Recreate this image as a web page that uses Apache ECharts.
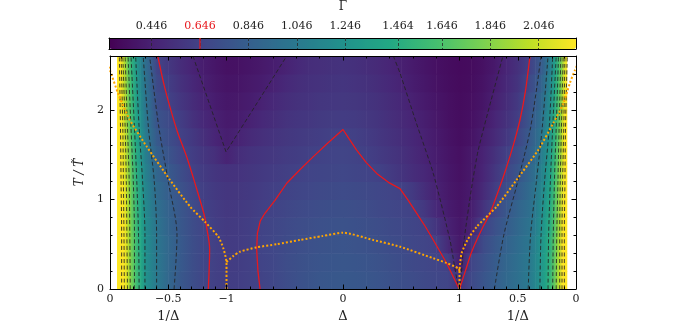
<!DOCTYPE html>
<html>
<head>
<meta charset="utf-8">
<script src="https://cdn.jsdelivr.net/npm/echarts@6/dist/echarts.min.js"></script>
<style>
  html, body { margin: 0; padding: 0; background: #fff; }
  #main { width: 686px; height: 325px; }
</style>
</head>
<body>
<div id="main"></div>
<script>
// combined x coordinate u: [-2,-1] is 1/Δ (0 .. -1), [-1,1] is Δ, [1,2] is 1/Δ (1 .. 0)
const U = [-1.94, -1.91, -1.88, -1.85, -1.82, -1.78, -1.74, -1.7, -1.65, -1.6,
  -1.5, -1.4, -1.3, -1.2, -1.1, -1.0, -0.9, -0.8, -0.7, -0.6, -0.5, -0.4, -0.3, -0.2, -0.1,
  0, 0.1, 0.2, 0.3, 0.4, 0.5, 0.6, 0.7, 0.8, 0.9, 1.0, 1.1, 1.2, 1.3, 1.4, 1.5,
  1.6, 1.65, 1.7, 1.74, 1.78, 1.82, 1.85, 1.88, 1.9, 1.92];
const T_EDGES = [0, 0.2, 0.4, 0.6, 0.8, 1.0, 1.2, 1.4, 1.6, 1.8, 2.0, 2.2, 2.4, 2.6];

// Γ, one row per T band (bottom to top)
const G_T01 = [2.6, 2.45, 2.23, 2.05, 1.81, 1.62, 1.45, 1.25, 1.14, 1.05,
  0.91, 0.80, 0.73, 0.67, 0.63, 0.615, 0.62, 0.635, 0.65, 0.68, 0.71, 0.74, 0.765, 0.785, 0.795,
  0.80, 0.795, 0.785, 0.77, 0.75, 0.73, 0.71, 0.69, 0.675, 0.66, 0.55, 0.69, 0.77, 0.84, 0.92, 0.98,
  1.06, 1.15, 1.28, 1.40, 1.55, 1.78, 2.0, 2.25, 2.45, 2.6];
const G_T03 = [2.6, 2.45, 2.22, 2.04, 1.80, 1.61, 1.44, 1.24, 1.13, 1.04,
  0.91, 0.81, 0.73, 0.67, 0.63, 0.61, 0.615, 0.63, 0.655, 0.68, 0.71, 0.735, 0.755, 0.77, 0.78,
  0.785, 0.78, 0.77, 0.755, 0.735, 0.715, 0.695, 0.675, 0.66, 0.63, 0.42, 0.66, 0.74, 0.82, 0.90, 0.97,
  1.05, 1.14, 1.27, 1.39, 1.54, 1.76, 1.98, 2.23, 2.43, 2.6];
const G_T05 = [2.6, 2.44, 2.21, 2.03, 1.79, 1.60, 1.43, 1.23, 1.12, 1.03,
  0.91, 0.81, 0.73, 0.67, 0.63, 0.60, 0.61, 0.625, 0.655, 0.68, 0.70, 0.72, 0.74, 0.755, 0.765,
  0.77, 0.76, 0.75, 0.735, 0.715, 0.70, 0.68, 0.66, 0.64, 0.50, 0.40, 0.54, 0.70, 0.79, 0.87, 0.95,
  1.03, 1.12, 1.25, 1.37, 1.52, 1.74, 1.96, 2.21, 2.41, 2.6];
const G_T07 = [2.6, 2.43, 2.20, 2.01, 1.78, 1.58, 1.41, 1.21, 1.10, 1.01,
  0.89, 0.80, 0.72, 0.66, 0.62, 0.595, 0.60, 0.62, 0.65, 0.67, 0.69, 0.71, 0.725, 0.74, 0.75,
  0.755, 0.745, 0.735, 0.72, 0.70, 0.685, 0.665, 0.646, 0.56, 0.45, 0.39, 0.45, 0.64, 0.74, 0.83, 0.92,
  1.00, 1.09, 1.22, 1.34, 1.49, 1.71, 1.93, 2.18, 2.39, 2.58];
const G_T09 = [2.6, 2.42, 2.18, 1.99, 1.76, 1.56, 1.38, 1.19, 1.07, 0.98,
  0.87, 0.79, 0.71, 0.646, 0.61, 0.585, 0.59, 0.605, 0.63, 0.65, 0.67, 0.69, 0.705, 0.72, 0.73,
  0.735, 0.725, 0.71, 0.695, 0.675, 0.66, 0.646, 0.58, 0.49, 0.42, 0.38, 0.43, 0.55, 0.67, 0.79, 0.89,
  0.97, 1.06, 1.19, 1.31, 1.46, 1.68, 1.90, 2.15, 2.36, 2.56];
const G_T11 = [2.6, 2.41, 2.16, 1.96, 1.73, 1.53, 1.35, 1.16, 1.04, 0.94,
  0.84, 0.76, 0.68, 0.625, 0.59, 0.57, 0.575, 0.59, 0.61, 0.63, 0.646, 0.665, 0.68, 0.69, 0.70,
  0.705, 0.70, 0.69, 0.675, 0.66, 0.646, 0.59, 0.52, 0.45, 0.40, 0.37, 0.41, 0.50, 0.61, 0.72, 0.83,
  0.94, 1.03, 1.15, 1.27, 1.42, 1.65, 1.87, 2.12, 2.33, 2.53];
const G_T13 = [2.6, 2.39, 2.14, 1.93, 1.70, 1.50, 1.32, 1.13, 1.01, 0.90,
  0.81, 0.73, 0.646, 0.60, 0.565, 0.55, 0.555, 0.57, 0.59, 0.61, 0.625, 0.64, 0.655, 0.665, 0.672,
  0.675, 0.665, 0.655, 0.646, 0.60, 0.56, 0.52, 0.48, 0.435, 0.39, 0.36, 0.40, 0.47, 0.57, 0.67, 0.78,
  0.90, 0.99, 1.11, 1.23, 1.38, 1.61, 1.83, 2.09, 2.30, 2.50];
const G_T15 = [2.6, 2.38, 2.12, 1.90, 1.67, 1.47, 1.29, 1.10, 0.97, 0.86,
  0.77, 0.68, 0.62, 0.57, 0.53, 0.455, 0.52, 0.545, 0.565, 0.585, 0.60, 0.615, 0.63, 0.645, 0.655,
  0.66, 0.65, 0.63, 0.60, 0.57, 0.54, 0.50, 0.46, 0.42, 0.38, 0.35, 0.40, 0.46, 0.54, 0.63, 0.73,
  0.86, 0.95, 1.07, 1.19, 1.34, 1.57, 1.79, 2.06, 2.27, 2.48];
const G_T17 = [2.6, 2.36, 2.10, 1.87, 1.64, 1.44, 1.25, 1.07, 0.94, 0.81,
  0.73, 0.646, 0.59, 0.53, 0.47, 0.43, 0.455, 0.50, 0.53, 0.555, 0.575, 0.59, 0.605, 0.62, 0.635,
  0.645, 0.63, 0.61, 0.58, 0.55, 0.52, 0.48, 0.445, 0.41, 0.37, 0.34, 0.37, 0.43, 0.50, 0.58, 0.67,
  0.82, 0.91, 1.02, 1.15, 1.30, 1.53, 1.75, 2.03, 2.24, 2.45];
const G_T19 = [2.6, 2.35, 2.07, 1.84, 1.61, 1.41, 1.22, 1.05, 0.91, 0.77,
  0.70, 0.62, 0.55, 0.49, 0.445, 0.41, 0.42, 0.45, 0.49, 0.52, 0.545, 0.565, 0.58, 0.595, 0.605,
  0.61, 0.60, 0.585, 0.56, 0.53, 0.50, 0.465, 0.43, 0.395, 0.36, 0.335, 0.355, 0.40, 0.47, 0.54, 0.62,
  0.78, 0.87, 0.98, 1.11, 1.26, 1.50, 1.72, 2.00, 2.20, 2.43];
const G_T21 = [2.6, 2.33, 2.05, 1.81, 1.58, 1.38, 1.19, 1.02, 0.88, 0.73,
  0.646, 0.58, 0.52, 0.465, 0.42, 0.39, 0.40, 0.42, 0.45, 0.49, 0.515, 0.54, 0.555, 0.57, 0.58,
  0.585, 0.575, 0.56, 0.54, 0.51, 0.48, 0.44, 0.41, 0.38, 0.35, 0.33, 0.345, 0.38, 0.44, 0.51, 0.59,
  0.74, 0.82, 0.93, 1.06, 1.22, 1.46, 1.68, 1.97, 2.17, 2.40];
const G_T23 = [2.6, 2.32, 2.02, 1.78, 1.55, 1.35, 1.16, 1.00, 0.86, 0.70,
  0.62, 0.55, 0.49, 0.44, 0.40, 0.375, 0.38, 0.40, 0.42, 0.45, 0.49, 0.515, 0.535, 0.55, 0.56,
  0.565, 0.555, 0.54, 0.52, 0.49, 0.455, 0.42, 0.39, 0.365, 0.34, 0.325, 0.335, 0.37, 0.42, 0.49, 0.56,
  0.69, 0.77, 0.88, 1.01, 1.17, 1.42, 1.64, 1.93, 2.14, 2.38];
const G_T25 = [2.6, 2.30, 2.00, 1.75, 1.52, 1.32, 1.13, 0.98, 0.84, 0.66,
  0.585, 0.52, 0.465, 0.42, 0.385, 0.36, 0.365, 0.38, 0.40, 0.425, 0.45, 0.49, 0.515, 0.53, 0.54,
  0.545, 0.535, 0.52, 0.50, 0.47, 0.44, 0.41, 0.38, 0.355, 0.335, 0.32, 0.33, 0.36, 0.405, 0.47, 0.54,
  0.64, 0.72, 0.82, 0.95, 1.12, 1.38, 1.60, 1.90, 2.10, 2.35];
const GAMMA_ROWS = [G_T01, G_T03, G_T05, G_T07, G_T09, G_T11, G_T13, G_T15, G_T17, G_T19, G_T21, G_T23, G_T25];

// colour bar
const CB_MIN = 0.27;
const CB_MAX = 2.2;
const CB_TICKS = [0.446, 0.646, 0.846, 1.046, 1.246, 1.464, 1.646, 1.846, 2.046];
const RED_LEVEL = 0.646;
const VIRIDIS = ['#440154', '#482475', '#414487', '#355f8d', '#2a788e', '#21918c',
  '#22a884', '#44bf70', '#7ad151', '#bddf26', '#fde725'];

// axis ticks and labels
const X_MAJOR = [-2, -1.5, -1, 0, 1, 1.5, 2];
const X_LABEL_TEXT = ['0', '\u22120.5', '\u22121', '0', '1', '0.5', '0'];
const X_MINOR = [-1.9, -1.8, -1.7, -1.6, -1.4, -1.3, -1.2, -1.1, -0.8, -0.6, -0.4, -0.2,
  0.2, 0.4, 0.6, 0.8, 1.1, 1.2, 1.3, 1.4, 1.6, 1.7, 1.8, 1.9];
const X_NAME_POS = [-1.5, 0, 1.5];
const X_NAME_TEXT = ['1/\u0394', '\u0394', '1/\u0394'];
const Y_MAJOR = [0, 1, 2];
const Y_MINOR = [0.2, 0.4, 0.6, 0.8, 1.2, 1.4, 1.6, 1.8, 2.2, 2.4];

// Γ = 0.646 contour (red)
const RED_LEFT = [[-1.59, 2.6], [-1.54, 2.3], [-1.485, 2.03], [-1.42, 1.75], [-1.342, 1.476],
  [-1.28, 1.22], [-1.227, 0.99], [-1.19, 0.82], [-1.165, 0.65], [-1.145, 0.45], [-1.148, 0.25], [-1.156, 0]];
const RED_DOME = [[-0.712, 0], [-0.73, 0.2], [-0.741, 0.44], [-0.735, 0.62], [-0.71, 0.76], [-0.67, 0.845],
  [-0.584, 0.99], [-0.483, 1.18], [-0.37, 1.33], [-0.255, 1.477], [-0.13, 1.63], [0, 1.78],
  [0.05, 1.68], [0.117, 1.55], [0.2, 1.41], [0.289, 1.29], [0.39, 1.19], [0.489, 1.12],
  [0.56, 0.99], [0.633, 0.845], [0.705, 0.7], [0.775, 0.547], [0.89, 0.287], [0.99, 0.02]];
const RED_RIGHT = [[1.0, 0], [1.05, 0.2], [1.1, 0.4], [1.148, 0.547], [1.2, 0.69], [1.262, 0.845],
  [1.335, 1.1], [1.405, 1.365], [1.465, 1.62], [1.519, 1.886], [1.565, 2.2], [1.605, 2.6]];

// orange dotted curve
const ORANGE_LEFT = [[-2.03, 2.52], [-2.0, 2.44], [-1.93, 2.18], [-1.83, 1.886], [-1.685, 1.59],
  [-1.485, 1.217], [-1.313, 0.92], [-1.185, 0.75], [-1.07, 0.584], [-1.027, 0.454], [-1.008, 0.36],
  [-1.0, 0.3], [-1.0, 0]];
const ORANGE_MID = [[-1.0, 0.3], [-0.94, 0.37], [-0.884, 0.416], [-0.74, 0.465], [-0.569, 0.5],
  [-0.369, 0.547], [-0.18, 0.59], [0, 0.628], [0.26, 0.547], [0.489, 0.472], [0.775, 0.343],
  [0.89, 0.29], [0.99, 0.23], [1.0, 0.2]];
const ORANGE_RIGHT = [[1.0, 0], [1.0, 0.2], [1.005, 0.28], [1.018, 0.4], [1.07, 0.55], [1.148, 0.695],
  [1.319, 0.92], [1.49, 1.217], [1.675, 1.55], [1.805, 1.85], [1.891, 2.07], [1.948, 2.3],
  [1.99, 2.44], [2.03, 2.55]];

// Γ = 0.446 contour (dashed V shapes)
const DASH_V_LEFT = [[-1.288, 2.6], [-1.15, 2.08], [-1.004, 1.53], [-0.75, 2.05], [-0.483, 2.6]];
const DASH_V_RIGHT = [[0.432, 2.6], [0.489, 2.41], [0.63, 1.85], [0.775, 1.29], [0.918, 0.547], [0.998, 0],
  [1.04, 0.55], [1.1, 1.1], [1.159, 1.54], [1.27, 2.1], [1.373, 2.6]];

// dashed contours near the edges, u at each CONTOUR_T
const CONTOUR_T = [0, 0.6, 1.2, 1.8, 2.6];
const LEFT_CONTOURS_U = [
  [-1.45, -1.425, -1.50, -1.58, -1.66],
  [-1.60, -1.60, -1.62, -1.67, -1.715],
  [-1.70, -1.70, -1.72, -1.75, -1.78],
  [-1.75, -1.755, -1.77, -1.79, -1.82],
  [-1.79, -1.79, -1.80, -1.82, -1.845],
  [-1.826, -1.83, -1.835, -1.85, -1.87],
  [-1.85, -1.855, -1.86, -1.87, -1.89],
  [-1.877, -1.88, -1.885, -1.89, -1.905],
  [-1.90, -1.90, -1.905, -1.91, -1.92]
];
const RIGHT_CONTOURS_U = [
  [1.30, 1.38, 1.50, 1.61, 1.70],
  [1.59, 1.61, 1.66, 1.71, 1.76],
  [1.69, 1.70, 1.73, 1.77, 1.80],
  [1.76, 1.765, 1.78, 1.80, 1.83],
  [1.80, 1.805, 1.815, 1.83, 1.85],
  [1.83, 1.835, 1.845, 1.855, 1.87],
  [1.86, 1.86, 1.865, 1.875, 1.89],
  [1.88, 1.88, 1.885, 1.895, 1.905],
  [1.90, 1.90, 1.905, 1.91, 1.925]
];

const FONT = 'DejaVu Serif';
const TEXT = '#222';
const RED = '#e8191e';
const ORANGE = '#ffa500';

// cells: [u, uNext, t0, t1, gamma]
const cells = [];
GAMMA_ROWS.forEach((row, r) => {
  row.forEach((g, i) => {
    cells.push([U[i], U[Math.min(i + 1, U.length - 1)], T_EDGES[r], T_EDGES[r + 1], g]);
  });
});

function renderCell(params, api) {
  const u0 = api.value(0), u1 = api.value(1);
  if (!(u1 > u0)) return null;
  const p0 = api.coord([u0, api.value(3)]);
  const p1 = api.coord([u1, api.value(2)]);
  const c0 = api.visual('color');
  const c1 = api.visual('color', params.dataIndexInside + 1);
  return {
    type: 'rect',
    shape: { x: p0[0], y: p0[1], width: p1[0] - p0[0] + 0.6, height: p1[1] - p0[1] + 0.6 },
    style: {
      fill: new echarts.graphic.LinearGradient(0, 0, 1, 0, [
        { offset: 0, color: c0 }, { offset: 1, color: c1 }
      ])
    },
    silent: true
  };
}

function labelAt(positions, texts) {
  return function (v) {
    const k = positions.findIndex(p => Math.abs(p - v) < 1e-6);
    return k < 0 ? '' : texts[k];
  };
}

function frameAxis(o) {
  return Object.assign({
    type: 'value', gridIndex: 0, z: 10,
    axisLine: { show: false, onZero: false },
    axisTick: { show: false },
    axisLabel: { show: false },
    splitLine: { show: false }
  }, o);
}
const LINE = { show: true, onZero: false, lineStyle: { color: '#000', width: 1 } };
function ticks(values, len) {
  return { show: true, inside: true, length: len, customValues: values, lineStyle: { color: '#000', width: 1 } };
}

function lineSeries(data, style, z, smooth) {
  return {
    type: 'line', xAxisIndex: 0, yAxisIndex: 0, data: data,
    showSymbol: false, symbol: 'none', smooth: smooth, z: z, silent: true,
    lineStyle: style
  };
}
const DASHED = { color: 'rgba(35,35,35,0.85)', width: 1, type: [4, 2.5] };
const contourSeries = LEFT_CONTOURS_U.concat(RIGHT_CONTOURS_U).map(us =>
  lineSeries(us.map((u, k) => [u, CONTOUR_T[k]]), DASHED, 3, 0.3));

const chart = echarts.init(document.getElementById('main'));
chart.setOption({
  animation: false,
  textStyle: { fontFamily: FONT },
  title: {
    text: '\u0393', left: 'center', top: 1, padding: 0,
    textStyle: { fontFamily: FONT, fontSize: 12, fontWeight: 'normal', color: TEXT }
  },
  grid: [
    { left: 110, top: 56, width: 466, height: 233, outerBoundsMode: 'none' },
    { left: 109, top: 38, width: 467, height: 11, outerBoundsMode: 'none' }
  ],
  visualMap: {
    type: 'continuous', min: CB_MIN, max: CB_MAX, dimension: 4, seriesIndex: 0,
    orient: 'horizontal', left: 109, top: 38, itemWidth: 11, itemHeight: 467,
    calculable: false, hoverLink: false, padding: 0, z: 4,
    inRange: { color: VIRIDIS }
  },
  xAxis: [
    frameAxis({ position: 'bottom', min: -2, max: 2, axisLine: LINE, axisTick: ticks(X_MAJOR, 4.5),
      axisLabel: { show: true, customValues: X_MAJOR, formatter: labelAt(X_MAJOR, X_LABEL_TEXT),
        margin: 5, fontSize: 11, fontFamily: FONT, color: TEXT } }),
    frameAxis({ position: 'bottom', min: -2, max: 2, axisTick: ticks(X_MINOR, 2.5) }),
    frameAxis({ position: 'top', min: -2, max: 2, axisLine: LINE, axisTick: ticks(X_MAJOR, 4.5) }),
    frameAxis({ position: 'top', min: -2, max: 2, axisTick: ticks(X_MINOR, 2.5) }),
    frameAxis({ position: 'bottom', min: -2, max: 2,
      axisLabel: { show: true, customValues: X_NAME_POS, formatter: labelAt(X_NAME_POS, X_NAME_TEXT),
        margin: 21, fontSize: 13, fontFamily: FONT, color: TEXT } }),
    frameAxis({ gridIndex: 1, position: 'top', min: CB_MIN, max: CB_MAX, axisLine: LINE,
      axisTick: { show: true, inside: true, length: 11, customValues: CB_TICKS,
        lineStyle: { color: 'rgba(40,40,40,0.8)', width: 1, type: [3, 2] } },
      axisLabel: { show: true, customValues: CB_TICKS, margin: 6, fontSize: 11, fontFamily: FONT,
        formatter: v => Number(v).toFixed(3),
        color: v => Math.abs(Number(v) - RED_LEVEL) < 1e-6 ? RED : TEXT } }),
    frameAxis({ gridIndex: 1, position: 'bottom', min: CB_MIN, max: CB_MAX, axisLine: LINE })
  ],
  yAxis: [
    frameAxis({ position: 'left', min: 0, max: 2.6, axisLine: LINE, axisTick: ticks(Y_MAJOR, 4.5),
      axisLabel: { show: true, customValues: Y_MAJOR, formatter: v => String(v),
        margin: 6, fontSize: 11, fontFamily: FONT, color: TEXT },
      name: 'T / T\u0303', nameLocation: 'middle', nameGap: 20, nameRotate: 90,
      nameTextStyle: { fontFamily: FONT, fontStyle: 'italic', fontSize: 12, color: TEXT } }),
    frameAxis({ position: 'left', min: 0, max: 2.6, axisTick: ticks(Y_MINOR, 2.5) }),
    frameAxis({ position: 'right', min: 0, max: 2.6, axisLine: LINE, axisTick: ticks(Y_MAJOR, 4.5) }),
    frameAxis({ position: 'right', min: 0, max: 2.6, axisTick: ticks(Y_MINOR, 2.5) }),
    frameAxis({ gridIndex: 1, position: 'left', min: 0, max: 1, axisLine: LINE }),
    frameAxis({ gridIndex: 1, position: 'right', min: 0, max: 1, axisLine: LINE })
  ],
  series: [
    {
      type: 'custom', name: 'Gamma', xAxisIndex: 0, yAxisIndex: 0, data: cells,
      encode: { x: [0, 1], y: [2, 3] }, renderItem: renderCell, clip: true, silent: true, z: 1
    },
    ...contourSeries,
    lineSeries(DASH_V_LEFT, DASHED, 3, false),
    lineSeries(DASH_V_RIGHT, DASHED, 3, 0.2),
    lineSeries(RED_LEFT, { color: RED, width: 1.3 }, 4, 0.3),
    lineSeries(RED_DOME, { color: RED, width: 1.3 }, 4, false),
    lineSeries(RED_RIGHT, { color: RED, width: 1.3 }, 4, 0.3),
    lineSeries(ORANGE_LEFT, { color: ORANGE, width: 2, type: [2, 2] }, 5, 0.2),
    lineSeries(ORANGE_MID, { color: ORANGE, width: 2, type: [2, 2] }, 5, 0.2),
    lineSeries(ORANGE_RIGHT, { color: ORANGE, width: 2, type: [2, 2] }, 5, 0.2),
    {
      type: 'line', xAxisIndex: 5, yAxisIndex: 4, data: [[RED_LEVEL, 0], [RED_LEVEL, 1]],
      symbol: 'none', z: 20, silent: true, lineStyle: { color: RED, width: 1.2 }
    }
  ]
});
</script>
</body>
</html>
